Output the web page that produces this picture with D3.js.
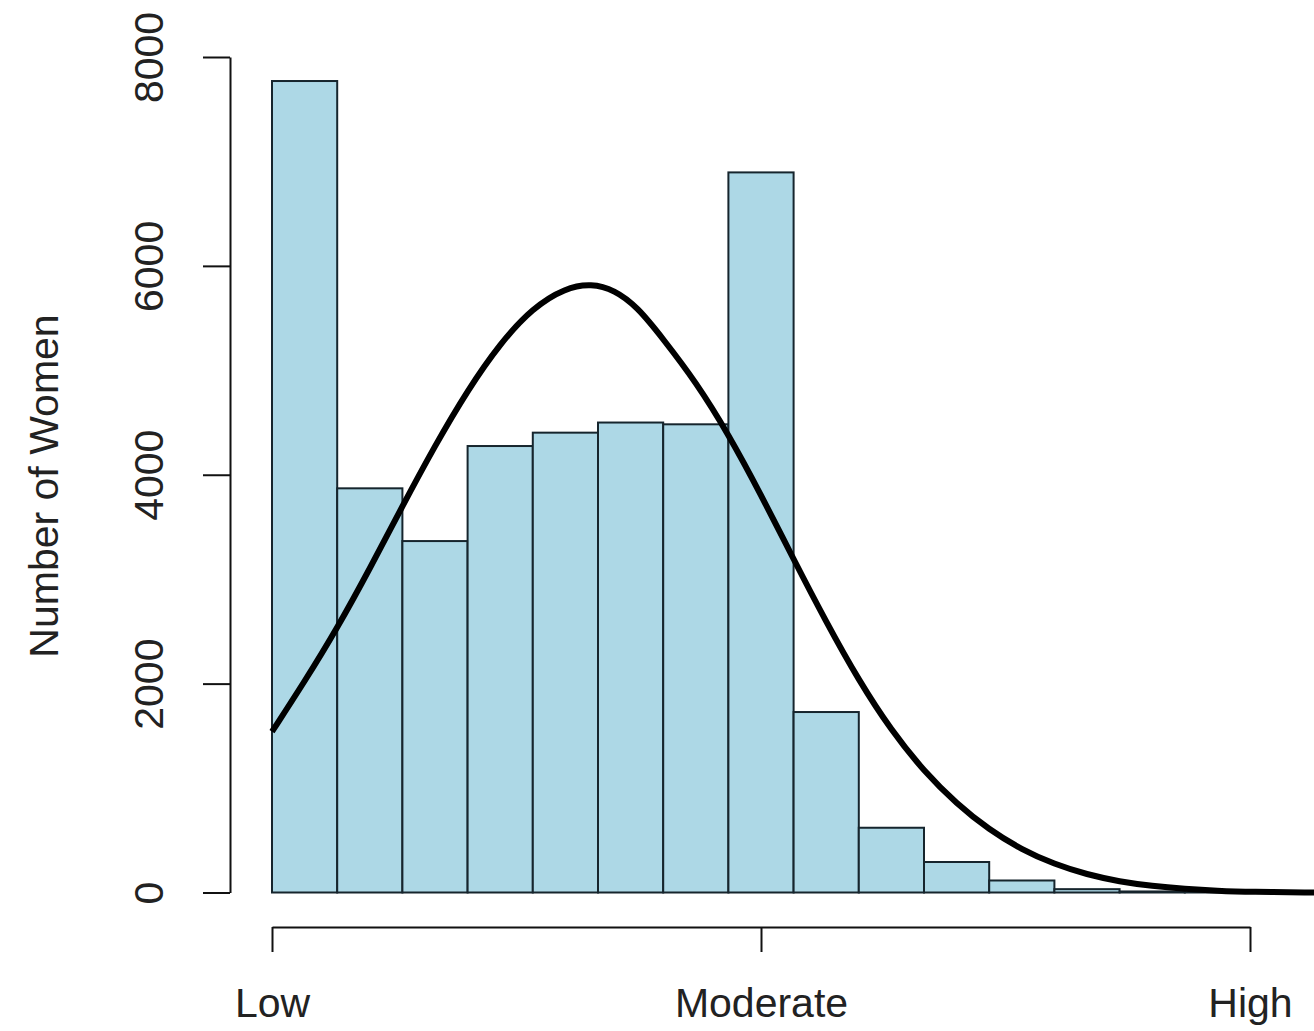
<!DOCTYPE html>
<html>
<head>
<meta charset="utf-8">
<script src="https://cdn.jsdelivr.net/npm/d3@7"></script>
<style>
  body { margin: 0; background: #fff; }
  svg { display: block; }
  text { font-family: "Liberation Sans", Arial, sans-serif; }
</style>
</head>
<body>
<svg width="1314" height="1031"></svg>
<script>
// histogram counts, one per bin (15 equal bins from Low to High)
const counts = [7770, 3870, 3365, 4275, 4403, 4500, 4483, 6895, 1728, 620, 292, 115, 32, 10, 3];

// fitted curve: bin position and count
const curveX = [0, 0.5, 1, 1.5, 2, 2.5, 3, 3.5, 4, 4.5, 4.9, 5.25, 5.6, 6, 6.5, 7, 7.5, 8, 8.5, 9, 9.5, 10, 10.5, 11, 11.5, 12, 12.5, 13, 13.5, 14, 14.5, 15, 16];
const curveY = [1540, 2020, 2530, 3100, 3700, 4280, 4810, 5260, 5600, 5790, 5830, 5770, 5610, 5300, 4890, 4390, 3810, 3190, 2590, 2030, 1550, 1160, 850, 600, 410, 270, 172, 104, 62, 35, 16, 5, 0];

// tick labels
const yTicks = [0, 2000, 4000, 6000, 8000];
const xTicks = [0, 7.5, 15];
const xLabels = ["Low", "Moderate", "High"];

const svg = d3.select("svg");

const x = d3.scaleLinear().domain([0, 15]).range([272, 1250]);
const y = d3.scaleLinear().domain([0, 8000]).range([892.5, 57]);

// bars
svg.append("g")
  .selectAll("rect")
  .data(counts)
  .join("rect")
    .attr("x", (d, i) => x(i))
    .attr("y", d => y(d))
    .attr("width", (d, i) => x(i + 1) - x(i))
    .attr("height", d => y(0) - y(d))
    .attr("fill", "#ADD8E6")
    .attr("stroke", "#16252d")
    .attr("stroke-width", 2);

// density curve
const pts = curveX.map((v, i) => [v, curveY[i]]);
svg.append("path")
  .datum(pts)
  .attr("fill", "none")
  .attr("stroke", "#000")
  .attr("stroke-width", 6)
  .attr("stroke-linejoin", "round")
  .attr("d", d3.line()
      .x(d => x(d[0]))
      .y(d => y(d[1]))
      .curve(d3.curveBasis));

// y axis, R style with labels parallel to axis
const yAxis = svg.append("g")
  .attr("transform", "translate(230,0)")
  .style("color", "#111")
  .call(d3.axisLeft(y).tickValues(yTicks).tickFormat(d3.format("d")).tickSize(27).tickSizeOuter(0));
yAxis.select(".domain").attr("stroke-width", 2);
yAxis.selectAll(".tick line").attr("stroke-width", 2);
yAxis.selectAll(".tick text")
  .attr("x", null)
  .attr("dy", null)
  .attr("transform", "translate(-67,0) rotate(-90)")
  .attr("text-anchor", "middle")
  .attr("fill", "#222")
  .style("font-size", "41px");

// x axis
const xAxis = svg.append("g")
  .attr("transform", "translate(0,927)")
  .style("color", "#111")
  .call(d3.axisBottom(x).tickValues(xTicks).tickFormat((d, i) => xLabels[i]).tickSize(25).tickSizeOuter(0));
xAxis.select(".domain").attr("stroke-width", 2);
xAxis.selectAll(".tick line").attr("stroke-width", 2);
xAxis.selectAll(".tick text")
  .attr("y", 90)
  .attr("dy", null)
  .attr("fill", "#222")
  .style("font-size", "41px");

// y axis title
svg.append("text")
  .attr("transform", "translate(58,486) rotate(-90)")
  .attr("text-anchor", "middle")
  .attr("fill", "#222")
  .style("font-size", "41px")
  .text("Number of Women");
</script>
</body>
</html>
